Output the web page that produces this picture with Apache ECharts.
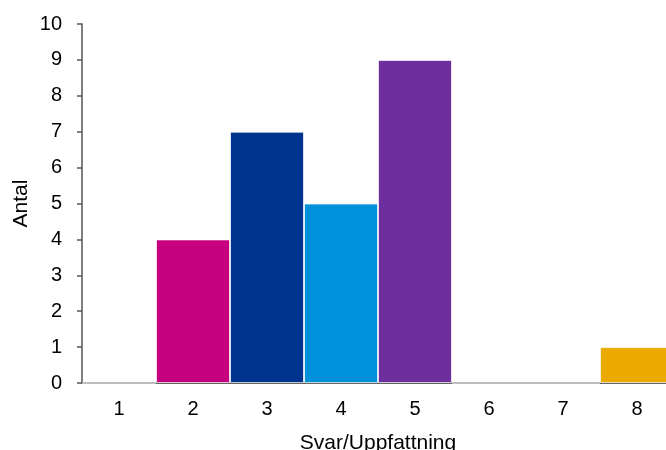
<!DOCTYPE html>
<html>
<head>
<meta charset="utf-8">
<script src="https://cdn.jsdelivr.net/npm/echarts@6/dist/echarts.min.js"></script>
<style>html,body{margin:0;padding:0;background:#fff;}#c{width:666px;height:450px;}</style>
</head>
<body>
<div id="c"></div>
<script>
const categories = ['1','2','3','4','5','6','7','8'];
const values = [0, 4, 7, 5, 9, 0, 0, 1];
const barColors = ['#00A3A1','#C6007E','#00338D','#0091DA','#6D2E9E','#43B02A','#005EB8','#EAAA00'];
const yTicks = [0,1,2,3,4,5,6,7,8,9,10];

const chart = echarts.init(document.getElementById('c'), null, {renderer:'canvas'});
const font = 'Liberation Sans, Arial, sans-serif';
chart.setOption({
  animation: false,
  grid: {left: 82, top: 24, width: 592, height: 359, containLabel: false, outerBoundsMode: 'none'},
  xAxis: {
    type: 'category',
    data: categories,
    name: 'Svar/Uppfattning',
    nameLocation: 'middle',
    nameGap: 50,
    nameMoveOverlap: false,
    nameTextStyle: {fontFamily: font, fontSize: 21, color: '#000'},
    axisLine: {lineStyle: {color: '#333', width: 1.5}},
    axisTick: {show: false},
    axisLabel: {fontFamily: font, fontSize: 20, color: '#000', margin: 16},
    splitLine: {show: false}
  },
  yAxis: {
    type: 'value',
    min: yTicks[0],
    max: yTicks[yTicks.length-1],
    interval: 1,
    name: 'Antal',
    nameLocation: 'middle',
    nameGap: 50,
    nameMoveOverlap: false,
    nameRotate: 90,
    nameTextStyle: {fontFamily: font, fontSize: 21, color: '#000'},
    axisLine: {show: true, lineStyle: {color: '#555', width: 1.5}},
    axisTick: {show: true, inside: false, length: 5, lineStyle: {color: '#555', width: 1.5}},
    axisLabel: {fontFamily: font, fontSize: 20, color: '#000', margin: 20},
    splitLine: {show: false}
  },
  series: [{
    type: 'bar',
    data: values.map((v, i) => ({value: v, itemStyle: {color: barColors[i]}})),
    barCategoryGap: '0%',
    itemStyle: {borderColor: 'rgba(255,255,255,0.7)', borderWidth: 1}
  }]
});
</script>
</body>
</html>
